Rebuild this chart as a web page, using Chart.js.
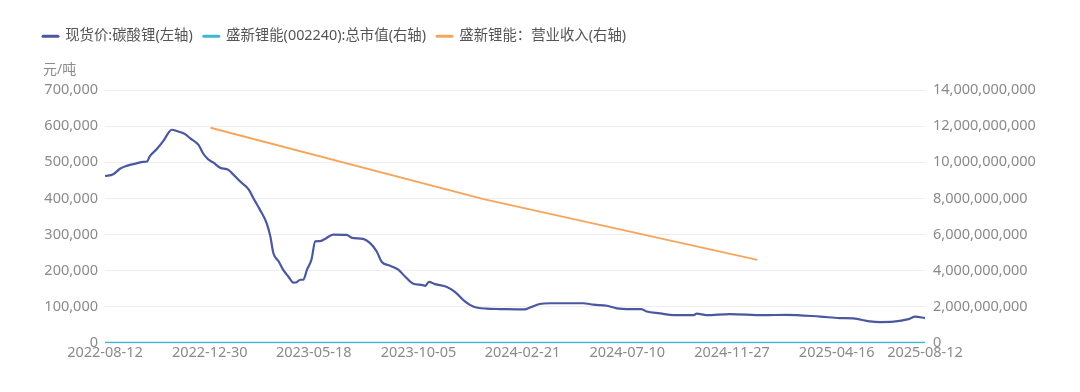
<!DOCTYPE html>
<html>
<head>
<meta charset="utf-8">
<script src="https://cdn.jsdelivr.net/npm/chart.js@4/dist/chart.umd.min.js"></script>
<style>
  html, body { margin: 0; padding: 0; background: #ffffff; }
  #wrap { width: 1080px; height: 392px; position: relative; }
</style>
</head>
<body>
<div id="wrap"><canvas id="c" width="1080" height="392"></canvas></div>
<script>
// ---- data ----
const startDate = '2022-08-12';
const endDate = '2025-08-12';
const xTickLabels = ['2022-08-12','2022-12-30','2023-05-18','2023-10-05','2024-02-21','2024-07-10','2024-11-27','2025-04-16','2025-08-12'];
const leftTicksUnit = '元/吨';
const seriesNames = ['现货价:碳酸锂(左轴)', '盛新锂能(002240):总市值(右轴)', '盛新锂能：营业收入(右轴)'];

const priceDates = ['2022-08-12','2022-08-23','2022-09-01','2022-09-10','2022-09-23','2022-10-02','2022-10-07','2022-10-11','2022-10-20','2022-10-29','2022-11-05','2022-11-09','2022-11-18','2022-11-27','2022-12-04','2022-12-15','2022-12-21','2022-12-28','2023-01-04','2023-01-13','2023-01-24','2023-01-30','2023-02-08','2023-02-20','2023-02-26','2023-03-07','2023-03-16','2023-03-21','2023-03-25','2023-04-01','2023-04-07','2023-04-14','2023-04-21','2023-04-25','2023-04-30','2023-05-04','2023-05-09','2023-05-15','2023-05-20','2023-05-26','2023-06-02','2023-06-13','2023-07-01','2023-07-08','2023-07-23','2023-08-01','2023-08-10','2023-08-17','2023-08-28','2023-09-08','2023-09-17','2023-09-28','2023-10-09','2023-10-14','2023-10-19','2023-10-27','2023-11-12','2023-11-23','2023-12-06','2023-12-17','2024-01-04','2024-01-22','2024-02-24','2024-03-02','2024-03-15','2024-03-29','2024-04-11','2024-05-12','2024-05-26','2024-06-13','2024-06-26','2024-07-14','2024-07-29','2024-08-05','2024-08-23','2024-09-10','2024-10-06','2024-10-11','2024-10-24','2024-11-24','2025-01-08','2025-02-08','2025-03-25','2025-04-20','2025-05-08','2025-05-30','2025-06-13','2025-07-01','2025-07-21','2025-07-30','2025-08-12'];
const priceValues = [462000,467000,482000,490000,497000,501000,502000,517000,536000,559000,582000,590000,585000,578000,566000,548000,525000,508000,499000,485000,479000,467000,448000,425000,402000,369000,332000,295000,249000,226000,203000,184000,167000,168000,175000,175000,203000,231000,281000,282000,288000,300000,299000,291000,288000,277000,254000,224000,214000,203000,184000,164000,161000,158000,169000,163000,155000,141000,115000,101000,95000,94000,93000,98000,108000,110000,110000,110000,106000,103000,96000,94000,94000,87000,82000,77000,77000,81000,77000,80000,77000,78000,73000,69000,68000,60000,58000,59000,66000,73000,69000];

const capDates = ['2022-08-12','2022-11-09','2023-05-18','2023-10-05','2024-02-21','2024-07-10','2024-11-27','2025-04-16','2025-08-12'];
const capValues = [520, 480, 330, 250, 160, 140, 150, 120, 140];

const revenueDates = ['2022-12-31','2023-12-31','2024-12-31'];
const revenueValues = [11910000000, 7960000000, 4600000000];

// ---- helpers ----
function dayIndex(s) {
  const [y, m, d] = s.split('-').map(Number);
  const [y0, m0, d0] = startDate.split('-').map(Number);
  return Math.round((Date.UTC(y, m - 1, d) - Date.UTC(y0, m0 - 1, d0)) / 86400000);
}
function toPoints(dates, values) { return dates.map((d, i) => ({ x: dayIndex(d), y: values[i] })); }
const tickDays = xTickLabels.map(dayIndex);

const FONT = "'Noto Sans', 'Noto Sans CJK SC', sans-serif";
const colors = ['#4b579f', '#3db7d2', '#f6a65c'];

const unitPlugin = {
  id: 'unitLabel',
  afterDraw(chart) {
    const ctx = chart.ctx;
    ctx.save();
    ctx.font = "14px " + FONT;
    ctx.fillStyle = '#8a8a8a';
    ctx.textAlign = 'left';
    ctx.textBaseline = 'middle';
    ctx.fillText(leftTicksUnit, 43, 70);
    ctx.restore();
  }
};
const legendHeightPlugin = {
  id: 'legendHeight',
  beforeInit(chart) {
    const orig = chart.legend.fit;
    chart.legend.fit = function () { orig.call(this); this.height = 72; };
  }
};

new Chart(document.getElementById('c'), {
  type: 'line',
  data: {
    datasets: [
      { label: seriesNames[0], data: toPoints(priceDates, priceValues), yAxisID: 'y', borderColor: colors[0], backgroundColor: colors[0], borderWidth: 2.2, pointRadius: 0, cubicInterpolationMode: 'monotone', order: 2 },
      { label: seriesNames[1], data: toPoints(capDates, capValues), yAxisID: 'y2', borderColor: colors[1], backgroundColor: colors[1], borderWidth: 2.5, pointRadius: 0, order: 1 },
      { label: seriesNames[2], data: toPoints(revenueDates, revenueValues), yAxisID: 'y2', borderColor: colors[2], backgroundColor: colors[2], borderWidth: 2, pointRadius: 0, order: 3 }
    ]
  },
  options: {
    responsive: false,
    animation: false,
    events: [],
    layout: { padding: { left: 32, right: 0, top: 18, bottom: 0 } },
    plugins: {
      tooltip: { enabled: false },
      legend: {
        position: 'top',
        align: 'start',
        labels: {
          usePointStyle: true,
          pointStyleWidth: 15,
          boxHeight: 14,
          padding: 11,
          color: '#555555',
          font: { family: FONT, size: 14.4 },
          generateLabels(chart) {
            return chart.data.datasets.map((ds, i) => ({
              text: ds.label, pointStyle: 'line', strokeStyle: colors[i], fillStyle: colors[i],
              lineWidth: 3, lineCap: 'round', datasetIndex: i, hidden: false, fontColor: '#555555'
            }));
          }
        }
      }
    },
    scales: {
      x: {
        type: 'linear',
        min: 0,
        max: dayIndex(endDate),
        grid: { display: false, drawTicks: false },
        border: { display: false },
        afterBuildTicks(scale) { scale.ticks = tickDays.map(v => ({ value: v })); },
        afterFit(scale) { scale.height = 49; },
        ticks: {
          autoSkip: false, maxRotation: 0, minRotation: 0, padding: 1,
          color: '#8a8a8a', font: { family: FONT, size: 14.5 },
          callback(value) { const i = tickDays.indexOf(value); return i >= 0 ? xTickLabels[i] : ''; }
        }
      },
      y: {
        position: 'left',
        min: 0, max: 700000,
        afterFit(scale) { scale.width = 73; },
        grid: { color: '#eceef4', lineWidth: 1, drawTicks: false },
        border: { display: false },
        ticks: {
          stepSize: 100000, padding: 7, color: '#8a8a8a', font: { family: FONT, size: 14.5 },
          callback(v) { return Number(v).toLocaleString('en-US'); }
        }
      },
      y2: {
        position: 'right',
        min: 0, max: 14000000000,
        afterFit(scale) { scale.width = 155; },
        grid: { drawOnChartArea: false, drawTicks: false },
        border: { display: false },
        ticks: {
          stepSize: 2000000000, padding: 8, color: '#8a8a8a', font: { family: FONT, size: 14.5 },
          callback(v) { return Number(v).toLocaleString('en-US'); }
        }
      }
    }
  },
  plugins: [unitPlugin, legendHeightPlugin]
});
</script>
</body>
</html>
